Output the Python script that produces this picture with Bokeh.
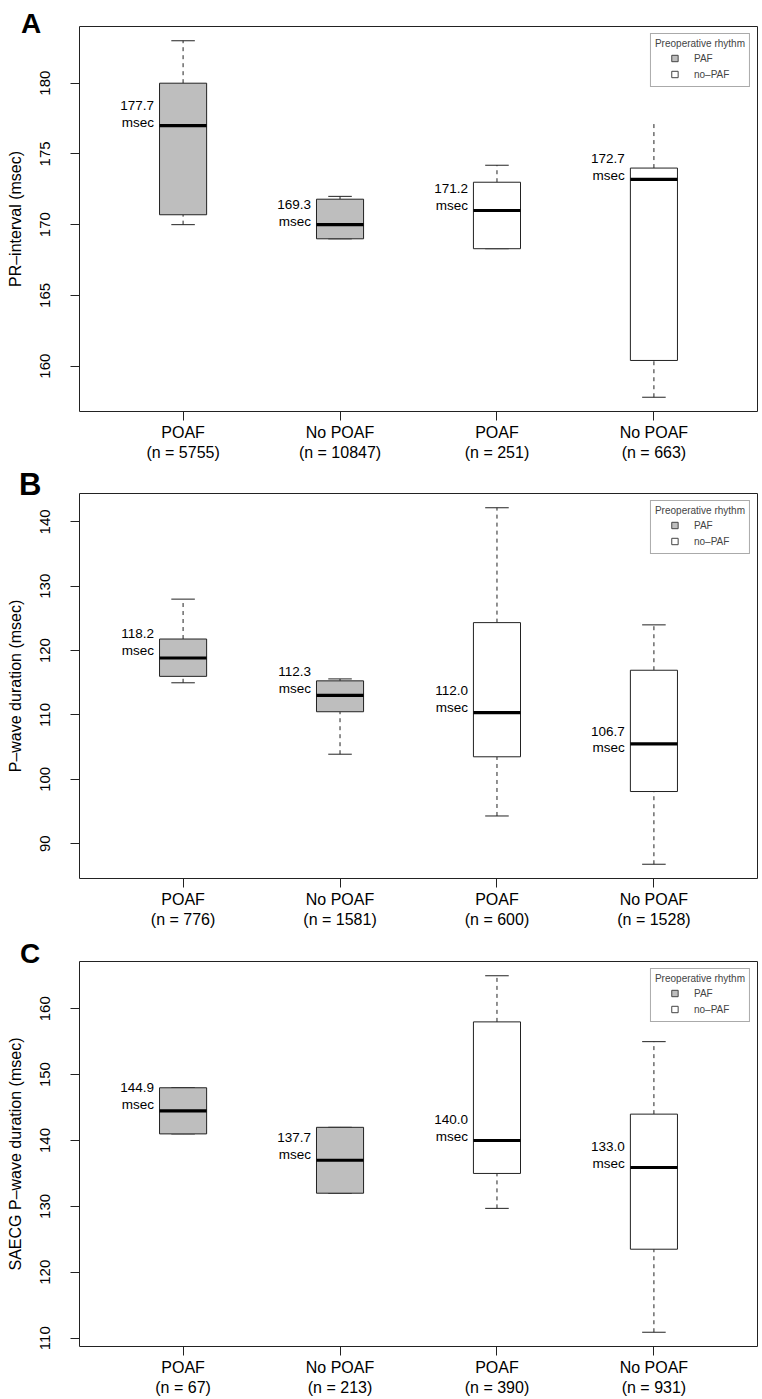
from bokeh.plotting import figure
from bokeh.models import Range1d, FixedTicker, Legend, LegendItem, ColumnDataSource, Div
from bokeh.layouts import column
from bokeh.embed import file_html
from bokeh.resources import INLINE
from bokeh.core.properties import value

# ---------------- data ----------------
groups = ["POAF", "No POAF", "POAF", "No POAF"]
rhythm = ["PAF", "PAF", "no–PAF", "no–PAF"]

# Panel A: PR-interval
A_n = [5755, 10847, 251, 663]
A_lo = [170.0, 169.0, 168.3, 157.8]
A_q1 = [170.7, 169.0, 168.3, 160.4]
A_med = [177.0, 170.0, 171.0, 173.2]
A_q3 = [180.0, 171.8, 173.0, 174.0]
A_hi = [183.0, 172.0, 174.2, 177.3]
A_mean = [177.7, 169.3, 171.2, 172.7]
A_hicap = [True, True, True, False]
A_ticks = [160, 165, 170, 175, 180]

# Panel B: P-wave duration
B_n = [776, 1581, 600, 1528]
B_lo = [115.0, 103.9, 94.3, 86.8]
B_q1 = [116.0, 110.5, 103.5, 98.1]
B_med = [118.85, 113.05, 110.35, 105.5]
B_q3 = [121.8, 115.3, 124.35, 116.95]
B_hi = [128.0, 115.6, 142.2, 124.0]
B_mean = [118.2, 112.3, 112.0, 106.7]
B_hicap = [True, True, True, True]
B_ticks = [90, 100, 110, 120, 130, 140]

# Panel C: SAECG P-wave duration
C_n = [67, 213, 390, 931]
C_lo = [141.0, 132.0, 129.7, 110.9]
C_q1 = [141.0, 132.0, 135.0, 123.5]
C_med = [144.5, 137.0, 140.0, 135.9]
C_q3 = [148.0, 142.0, 158.0, 144.0]
C_hi = [148.0, 142.0, 165.0, 155.0]
C_mean = [144.9, 137.7, 140.0, 133.0]
C_hicap = [True, True, True, True]
C_ticks = [110, 120, 130, 140, 150, 160]

# label anchor heights (layout of the mean annotations)
A_labpos = [177.8, 170.85, 171.95, 174.05]
B_labpos = [121.3, 115.45, 112.45, 106.2]
C_labpos = [146.8, 139.15, 141.95, 137.8]

FONT = "Liberation Sans"
GRAY = "#BEBEBE"
EDGE = "#222222"
BOX_W = 0.3
NAN = float("nan")


def panel(ylabel, n, lo, q1, med, q3, hi, mean, labpos, hicap, ticks,
          height, btop, bbot):
    k = len(groups)
    xs = list(range(1, k + 1))
    ymin, ymax = min(lo), max(hi)
    pad = 0.04 * (ymax - ymin)
    xpad = 0.04 * k
    p = figure(width=762, height=height,
               x_range=Range1d(0.5 - xpad, k + 0.5 + xpad),
               y_range=Range1d(ymin - pad, ymax + pad),
               output_backend="svg", toolbar_location=None,
               min_border_left=79, min_border_right=5,
               min_border_top=btop, min_border_bottom=bbot)
    p.xgrid.visible = False
    p.ygrid.visible = False
    p.outline_line_color = EDGE
    p.outline_line_width = 1
    p.background_fill_color = "white"
    p.border_fill_color = "white"

    fills = [GRAY if r == "PAF" else "white" for r in rhythm]
    src = ColumnDataSource(dict(
        x=xs, left=[x - BOX_W / 2 for x in xs], right=[x + BOX_W / 2 for x in xs],
        lo=lo, q1=q1, med=med, q3=q3, hi=hi, fill=fills,
    ))
    # whiskers
    p.segment(x0="x", y0="q3", x1="x", y1="hi", source=src, line_color=EDGE,
              line_width=1, line_dash="4 4")
    p.segment(x0="x", y0="lo", x1="x", y1="q1", source=src, line_color=EDGE,
              line_width=1, line_dash="4 4")
    # caps
    capx = [x for x, c in zip(xs, hicap) if c]
    caphi = [h for h, c in zip(hi, hicap) if c]
    p.segment(x0=[x - BOX_W / 4 for x in capx], x1=[x + BOX_W / 4 for x in capx],
              y0=caphi, y1=caphi, line_color=EDGE, line_width=1)
    p.segment(x0=[x - BOX_W / 4 for x in xs], x1=[x + BOX_W / 4 for x in xs],
              y0=lo, y1=lo, line_color=EDGE, line_width=1)
    # boxes
    p.quad(left="left", right="right", bottom="q1", top="q3", source=src,
           fill_color="fill", line_color=EDGE, line_width=1)
    # medians
    p.segment(x0="left", x1="right", y0="med", y1="med", source=src,
              line_color="black", line_width=3.2, line_cap="butt")
    # mean labels
    p.text(x=[x - BOX_W / 2 - 0.035 for x in xs], y=labpos,
           text=[f"{m:.1f}\nmsec" for m in mean],
           text_align="right", text_baseline="middle",
           text_font=value(FONT), text_font_size="13.5px", text_color="black",
           text_line_height=1.12)

    # axes
    p.xaxis.ticker = FixedTicker(ticks=xs)
    p.xaxis.major_label_overrides = {x: f"{g}\n(n = {nn})" for x, g, nn in zip(xs, groups, n)}
    p.yaxis.ticker = FixedTicker(ticks=ticks)
    p.yaxis.major_label_orientation = "vertical"
    p.yaxis.axis_label = ylabel
    for ax in (p.xaxis[0], p.yaxis[0]):
        ax.axis_line_color = None
        ax.major_tick_line_color = EDGE
        ax.major_tick_in = 0
        ax.major_tick_out = 9
        ax.minor_tick_line_color = None
        ax.major_label_text_font = FONT
        ax.major_label_text_color = "black"
        ax.axis_label_text_font = FONT
        ax.axis_label_text_font_size = "16px"
        ax.axis_label_text_font_style = "normal"
        ax.axis_label_text_color = "black"
    p.xaxis.major_label_text_font_size = "16px"
    p.yaxis.major_label_text_font_size = "15px"
    p.xaxis.major_label_standoff = 3
    p.yaxis.major_label_standoff = 20
    p.yaxis.axis_label_standoff = 14

    # legend (markers drawn only in the legend)
    r1 = p.scatter(x=[NAN], y=[NAN], marker="square", fill_color=GRAY,
                   line_color="#444444", size=7)
    r2 = p.scatter(x=[NAN], y=[NAN], marker="square", fill_color="white",
                   line_color="#444444", size=7)
    leg = Legend(items=[LegendItem(label="PAF", renderers=[r1]),
                        LegendItem(label="no–PAF", renderers=[r2])],
                 title="Preoperative rhythm", location="top_right")
    leg.margin = 7
    leg.padding = 4
    leg.spacing = 0
    leg.glyph_width = 39
    leg.glyph_height = 16
    leg.label_height = 13
    leg.label_standoff = 0
    leg.title_standoff = 1
    leg.label_text_font = FONT
    leg.label_text_font_size = "10px"
    leg.title_text_font = FONT
    leg.title_text_font_size = "10px"
    leg.title_text_font_style = "normal"
    leg.border_line_color = "#555555"
    leg.border_line_width = 1
    leg.background_fill_color = "white"
    leg.background_fill_alpha = 1
    p.add_layout(leg)
    return p


pA = panel("PR–interval (msec)", A_n, A_lo, A_q1, A_med, A_q3, A_hi, A_mean,
           A_labpos, A_hicap, A_ticks, height=463, btop=26, bbot=52)
pB = panel("P–wave duration (msec)", B_n, B_lo, B_q1, B_med, B_q3, B_hi, B_mean,
           B_labpos, B_hicap, B_ticks, height=467, btop=30, bbot=52)
pC = panel("SAECG P–wave duration (msec)", C_n, C_lo, C_q1, C_med, C_q3, C_hi, C_mean,
           C_labpos, C_hicap, C_ticks, height=469, btop=31, bbot=53)

# panel letters (overlay on the left margin)
letters = ["A", "B", "C"]
letter_left = [16, 14, 15]
letter_top = [5, 464, 935]
letter_size = [28, 31, 28]
html = "".join(
    f'<div style="position:absolute;left:{lx}px;top:{ly}px;'
    f"font-family:'Liberation Sans',Arial,sans-serif;font-weight:bold;"
    f'font-size:{fs}px;line-height:1;color:black;">{t}</div>'
    for t, lx, ly, fs in zip(letters, letter_left, letter_top, letter_size)
)
letters_div = Div(text=html, width=60, height=1000,
                  styles={"position": "absolute", "left": "0px", "top": "0px",
                          "overflow": "visible", "z-index": "10",
                          "pointer-events": "none"})

layout = column(letters_div, pA, pB, pC, spacing=0)
open("out.html", "w").write(file_html(layout, INLINE))
